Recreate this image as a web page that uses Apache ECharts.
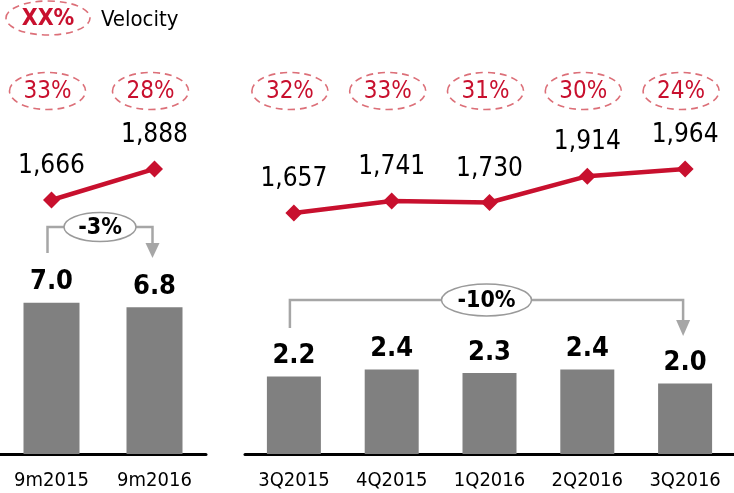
<!DOCTYPE html>
<html>
<head>
<meta charset="utf-8">
<script src="https://cdn.jsdelivr.net/npm/echarts@6/dist/echarts.min.js"></script>
<style>
  html, body { margin: 0; padding: 0; background: #fff; }
  #main { width: 734px; height: 493px; }
</style>
</head>
<body>
<div id="main"></div>
<script>
// 9m periods (left block)
var ytdCats = ['9m2015', '9m2016'];
var ytdBars = [7.0, 6.8];
var ytdLine = [1666, 1888];
var ytdVelocity = [33, 28];
var ytdChange = '-3%';

// quarters (right block)
var qCats = ['3Q2015', '4Q2015', '1Q2016', '2Q2016', '3Q2016'];
var qBars = [2.2, 2.4, 2.3, 2.4, 2.0];
var qLine = [1657, 1741, 1730, 1914, 1964];
var qVelocity = [32, 33, 31, 30, 24];
var qChange = '-10%';

var FONT = "'DejaVu Sans Condensed', 'DejaVu Sans', sans-serif";
var RED = '#c8102e';
var DASH_RED = '#dc6f78';
var GREY = '#a6a6a6';

var chart = echarts.init(document.getElementById('main'));

// dashed velocity ellipses above each category
function velocityItem(params, api) {
  var x = api.coord([api.value(0), 0])[0] - 4;
  var y = 91;
  return {
    type: 'group',
    children: [
      { type: 'ellipse', shape: { cx: x, cy: y, rx: 38, ry: 18.5 },
        style: { fill: '#fff', stroke: DASH_RED, lineWidth: 1.6, lineDash: [7, 5] } },
      { type: 'text', style: { text: api.value(1) + '%', x: x, y: y + 1, align: 'center', verticalAlign: 'middle',
        font: '24px ' + FONT, fill: RED } }
    ]
  };
}

// bracket arrow from first to last bar with change bubble
function arrowMaker(topY, startY, tipY, headLen, label, rx, ry) {
  return function (params, api) {
    var x0 = api.coord([api.value(0), 0])[0] - 4;
    var x1 = api.coord([api.value(1), 0])[0] - 2;
    var mid = (x0 + x1) / 2;
    return {
      type: 'group',
      children: [
        { type: 'polyline', shape: { points: [[x0, startY], [x0, topY], [x1, topY], [x1, tipY - headLen]] },
          style: { stroke: GREY, lineWidth: 2.5, fill: null } },
        { type: 'polygon', shape: { points: [[x1 - 7, tipY - headLen], [x1 + 7, tipY - headLen], [x1, tipY]] },
          style: { fill: GREY } },
        { type: 'ellipse', shape: { cx: mid, cy: topY, rx: rx, ry: ry },
          style: { fill: '#fff', stroke: '#9a9a9a', lineWidth: 1.5 } },
        { type: 'text', style: { text: label, x: mid, y: topY + 1, align: 'center', verticalAlign: 'middle',
          font: 'bold 23px ' + FONT, fill: '#000' } }
      ]
    };
  };
}

function barSeries(idx, data, width) {
  return {
    type: 'bar', xAxisIndex: idx, yAxisIndex: idx * 2, data: data, barWidth: width,
    itemStyle: { color: '#808080' },
    label: { show: true, position: 'top', distance: 7, color: '#000', fontWeight: 'bold',
      fontSize: 27, fontFamily: FONT, formatter: function (p) { return p.value.toFixed(1); } },
    silent: true
  };
}

function lineSeries(idx, data) {
  return {
    type: 'line', xAxisIndex: idx, yAxisIndex: idx * 2 + 1, data: data,
    symbol: 'diamond', symbolSize: 17,
    lineStyle: { color: RED, width: 4.5 }, itemStyle: { color: RED },
    label: { show: true, position: 'top', distance: 12, color: '#000', fontSize: 26, fontFamily: FONT,
      formatter: function (p) { return p.value.toLocaleString('en-US'); } },
    silent: true, animation: false
  };
}

var hiddenY = function (grid, min, max) {
  return { type: 'value', gridIndex: grid, min: min, max: max, show: false };
};

chart.setOption({
  animation: false,
  grid: [
    { left: 0, width: 206, top: 40, bottom: 39 },
    { left: 245, width: 501, top: 40, bottom: 39 }
  ],
  xAxis: [ytdCats, qCats].map(function (cats, i) {
    return {
      type: 'category', gridIndex: i, data: cats,
      axisLine: { lineStyle: { color: '#000', width: 3 } },
      axisTick: { show: false },
      axisLabel: { color: '#000', fontSize: 20, fontFamily: FONT, margin: 17 }
    };
  }),
  yAxis: [
    hiddenY(0, 0, 19.17), hiddenY(0, -148, 2809),
    hiddenY(1, 0, 11.76), hiddenY(1, -25, 2864)
  ],
  graphic: [
    { type: 'ellipse', shape: { cx: 48, cy: 18, rx: 42, ry: 17 },
      style: { fill: '#fff', stroke: DASH_RED, lineWidth: 1.6, lineDash: [7, 5] } },
    { type: 'text', x: 48, y: 19, style: { text: 'XX%', align: 'center', verticalAlign: 'middle',
      font: 'bold 23px ' + FONT, fill: RED } },
    { type: 'text', x: 101, y: 20, style: { text: 'Velocity', align: 'left', verticalAlign: 'middle',
      font: '22px ' + FONT, fill: '#000' } }
  ],
  series: [
    barSeries(0, ytdBars, 56),
    barSeries(1, qBars, 54),
    lineSeries(0, ytdLine),
    lineSeries(1, qLine),
    { type: 'custom', xAxisIndex: 0, yAxisIndex: 0, renderItem: velocityItem,
      data: ytdVelocity.map(function (v, i) { return [i, v]; }), silent: true },
    { type: 'custom', xAxisIndex: 1, yAxisIndex: 2, renderItem: velocityItem,
      data: qVelocity.map(function (v, i) { return [i, v]; }), silent: true },
    { type: 'custom', xAxisIndex: 0, yAxisIndex: 0, renderItem: arrowMaker(227, 253, 258, 15, ytdChange, 36, 14.5),
      data: [[0, ytdCats.length - 1]], silent: true },
    { type: 'custom', xAxisIndex: 1, yAxisIndex: 2, renderItem: arrowMaker(300, 328, 336, 16, qChange, 45, 16),
      data: [[0, qCats.length - 1]], silent: true }
  ]
});
</script>
</body>
</html>
